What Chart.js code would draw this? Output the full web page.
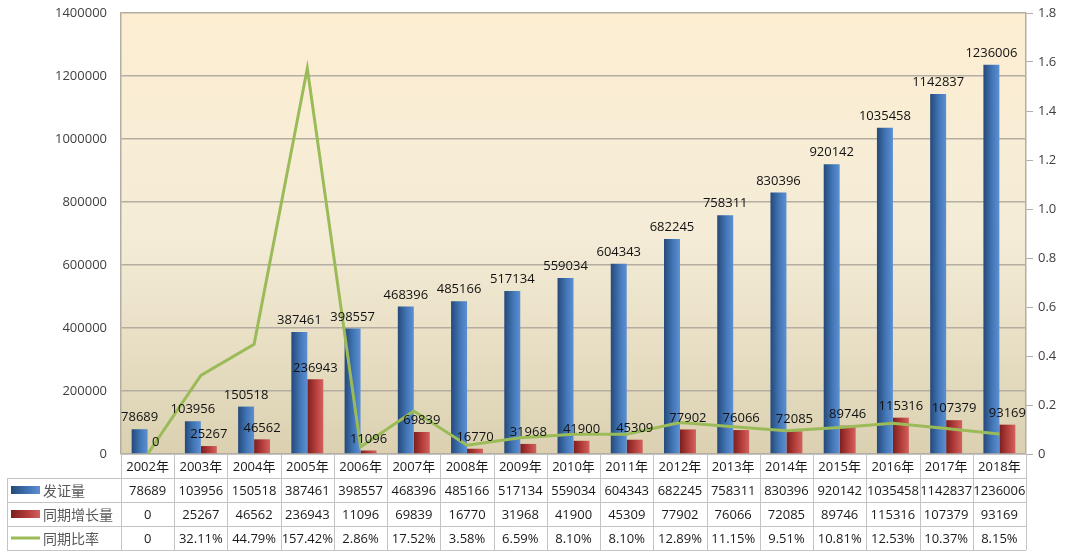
<!DOCTYPE html>
<html>
<head>
<meta charset="utf-8">
<script src="https://cdn.jsdelivr.net/npm/chart.js@4.4.0/dist/chart.umd.min.js"></script>
<style>
  body { margin: 0; background: #fff; }
  canvas { display: block; }
</style>
</head>
<body>
<canvas id="certChart" width="1065" height="552"></canvas>
<script>
const years = ["2002年", "2003年", "2004年", "2005年", "2006年", "2007年", "2008年", "2009年", "2010年",
  "2011年", "2012年", "2013年", "2014年", "2015年", "2016年", "2017年", "2018年"];
const issued = [78689, 103956, 150518, 387461, 398557, 468396, 485166, 517134, 559034,
  604343, 682245, 758311, 830396, 920142, 1035458, 1142837, 1236006];
const growth = [0, 25267, 46562, 236943, 11096, 69839, 16770, 31968, 41900,
  45309, 77902, 76066, 72085, 89746, 115316, 107379, 93169];
const ratio = [0, 0.3211, 0.4479, 1.5742, 0.0286, 0.1752, 0.0358, 0.0659, 0.081,
  0.081, 0.1289, 0.1115, 0.0951, 0.1081, 0.1253, 0.1037, 0.0815];
const seriesNames = ["发证量", "同期增长量", "同期比率"];

const NUM_FONT = '13px "Open Sans", "Noto Sans CJK SC", sans-serif';
const CJK_FONT = '14px "Noto Sans CJK SC", sans-serif';
const GRID = "#b3ada2";
const CELL = "#c4c4c4";
const ROW_H = 24;

// bar gradients, left dark -> right light
function barGradient(ctx, pos, stops) {
  const chart = ctx.chart;
  const x = chart.scales.x;
  if (!x || x.width == null || ctx.dataIndex == null) return stops[1];
  const cat = x.width / years.length;
  const w = cat * 0.6 / 2;
  const c = x.getPixelForValue(ctx.dataIndex);
  const left = pos === 0 ? c - w : c;
  const g = chart.ctx.createLinearGradient(left, 0, left + w, 0);
  g.addColorStop(0, stops[0]);
  g.addColorStop(0.55, stops[1]);
  g.addColorStop(1, stops[2]);
  return g;
}
const blueStops = ["#25497a", "#4276b6", "#5c90d2"];
const redStops = ["#7c1f1f", "#b63f3c", "#d2625e"];

const plotBackground = {
  id: "plotBackground",
  beforeDraw(chart) {
    const { ctx, chartArea: a } = chart;
    const g = ctx.createLinearGradient(0, a.top, 0, a.bottom);
    g.addColorStop(0, "#fdeed2");
    g.addColorStop(0.5, "#f4ecd7");
    g.addColorStop(1, "#dbd1b1");
    ctx.save();
    ctx.fillStyle = g;
    ctx.fillRect(a.left, a.top, a.right - a.left, a.bottom - a.top);
    ctx.restore();
  },
};

const barLabels = {
  id: "barLabels",
  afterDatasetsDraw(chart) {
    const { ctx } = chart;
    ctx.save();
    ctx.font = NUM_FONT;
    ctx.fillStyle = "#111";
    ctx.textAlign = "center";
    ctx.textBaseline = "bottom";
    [1, 2].forEach((di) => {
      const meta = chart.getDatasetMeta(di);
      const vals = chart.data.datasets[di].data;
      meta.data.forEach((bar, i) => {
        ctx.fillText(String(vals[i]), bar.x, bar.y - 5);
      });
    });
    ctx.restore();
  },
};

// excel style data table under the plot
const dataTable = {
  id: "dataTable",
  afterDraw(chart) {
    const { ctx, chartArea: a } = chart;
    const x = chart.scales.x;
    const cat = (a.right - a.left) / years.length;
    const top = a.bottom;
    const legendLeft = 7;
    const rows = [
      years,
      issued.map(String),
      growth.map(String),
      ratio.map((r) => r === 0 ? "0" : (r * 100).toFixed(2) + "%"),
    ];

    ctx.save();
    ctx.fillStyle = "#fff";
    ctx.fillRect(a.left, top, a.right - a.left, ROW_H);
    ctx.fillRect(legendLeft, top + ROW_H, a.right - legendLeft, ROW_H * 3);

    ctx.strokeStyle = CELL;
    ctx.lineWidth = 1;
    ctx.beginPath();
    ctx.moveTo(a.left, top + 0.5);
    ctx.lineTo(a.right, top + 0.5);
    for (let r = 1; r <= 4; r++) {
      const y = Math.round(top + r * ROW_H) + 0.5;
      ctx.moveTo(legendLeft, y);
      ctx.lineTo(a.right, y);
    }
    for (let i = 0; i <= years.length; i++) {
      const vx = Math.round(a.left + i * cat) + 0.5;
      ctx.moveTo(vx, top);
      ctx.lineTo(vx, top + ROW_H * 4);
    }
    ctx.moveTo(legendLeft + 0.5, top + ROW_H);
    ctx.lineTo(legendLeft + 0.5, top + ROW_H * 4);
    ctx.stroke();

    ctx.textAlign = "center";
    ctx.textBaseline = "middle";
    ctx.font = NUM_FONT;
    ctx.fillStyle = "#1a1a1a";
    rows.forEach((row, r) => {
      row.forEach((txt, i) => {
        ctx.fillText(txt, x.getPixelForValue(i), top + r * ROW_H + ROW_H / 2 + 1);
      });
    });

    // legend keys
    for (let r = 0; r < 3; r++) {
      const cy = top + (r + 1) * ROW_H + ROW_H / 2;
      if (r < 2) {
        const st = r === 0 ? blueStops : redStops;
        const g = ctx.createLinearGradient(11, 0, 40, 0);
        g.addColorStop(0, st[0]);
        g.addColorStop(0.6, st[1]);
        g.addColorStop(1, st[2]);
        ctx.fillStyle = g;
        ctx.fillRect(11, cy - 4, 29, 8);
      } else {
        ctx.strokeStyle = "#9bbb59";
        ctx.lineWidth = 3;
        ctx.beginPath();
        ctx.moveTo(11, cy);
        ctx.lineTo(40, cy);
        ctx.stroke();
      }
      ctx.font = CJK_FONT;
      ctx.fillStyle = "#595959";
      ctx.textAlign = "left";
      ctx.fillText(seriesNames[r], 43, cy + 1);
    }
    ctx.restore();
  },
};

new Chart(document.getElementById("certChart"), {
  data: {
    labels: years,
    datasets: [
      {
        type: "line",
        label: seriesNames[2],
        data: ratio,
        yAxisID: "y1",
        borderColor: "#9bbb59",
        borderWidth: 3,
        pointRadius: 0,
        tension: 0,
        order: 0,
      },
      {
        type: "bar",
        label: seriesNames[0],
        data: issued,
        yAxisID: "y",
        backgroundColor: (c) => barGradient(c, 0, blueStops),
        categoryPercentage: 0.6,
        barPercentage: 1,
        order: 1,
      },
      {
        type: "bar",
        label: seriesNames[1],
        data: growth,
        yAxisID: "y",
        backgroundColor: (c) => barGradient(c, 1, redStops),
        categoryPercentage: 0.6,
        barPercentage: 1,
        order: 1,
      },
    ],
  },
  plugins: [plotBackground, barLabels, dataTable],
  options: {
    responsive: false,
    animation: false,
    layout: { padding: { top: 13, bottom: 98, left: 0, right: 0 } },
    plugins: {
      legend: { display: false },
      tooltip: { enabled: false },
    },
    scales: {
      x: {
        display: false,
        offset: true,
      },
      y: {
        position: "left",
        min: 0,
        max: 1400000,
        ticks: {
          stepSize: 200000,
          padding: 2,
          color: "#404040",
          font: { family: "Open Sans", size: 13 },
          callback: (v) => String(v),
        },
        grid: { color: GRID, lineWidth: 1.5, tickLength: 12, tickColor: "rgba(0,0,0,0)" },
        border: { display: true, color: GRID, width: 1.5 },
        afterFit: (s) => { s.width = 121; },
      },
      y1: {
        position: "right",
        min: 0,
        max: 1.8,
        ticks: {
          stepSize: 0.2,
          padding: 5,
          color: "#404040",
          font: { family: "Open Sans", size: 13 },
        },
        grid: { drawOnChartArea: false, color: GRID, tickLength: 7 },
        border: { display: true, color: GRID, width: 1.5 },
        afterFit: (s) => { s.width = 39; },
      },
    },
  },
});
</script>
</body>
</html>
